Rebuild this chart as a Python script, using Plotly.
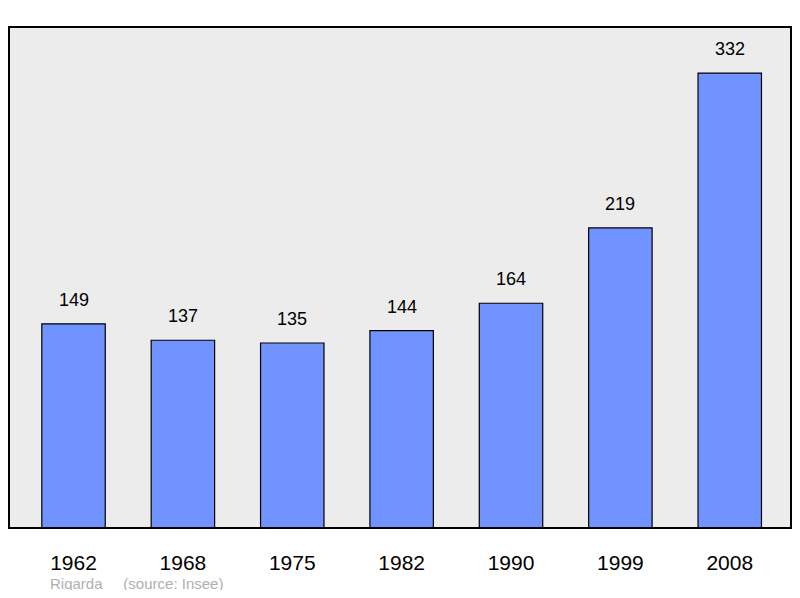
import plotly.graph_objects as go

years = ["1962", "1968", "1975", "1982", "1990", "1999", "2008"]
population = [149, 137, 135, 144, 164, 219, 332]

xs = list(range(len(years)))

fig = go.Figure()
fig.add_trace(
    go.Bar(
        x=xs,
        y=population,
        width=0.58,
        marker=dict(color="#7093ff", line=dict(color="black", width=1.2)),
        hoverinfo="skip",
    )
)

# value labels above each bar
for x, v in zip(xs, population):
    fig.add_annotation(
        x=x, y=v, text=str(v), showarrow=False, yanchor="bottom", yshift=12,
        font=dict(family="Liberation Sans", size=18, color="black"),
    )

fig.add_shape(
    type="rect", xref="paper", yref="paper", x0=0, y0=0, x1=1, y1=1,
    line=dict(color="black", width=2), layer="above",
)

fig.add_annotation(
    xref="paper", yref="paper", x=0.05, y=-0.11, xanchor="left", yanchor="middle",
    text="Rigarda&nbsp;&nbsp;&nbsp;&nbsp;&nbsp;(source: Insee)", showarrow=False,
    font=dict(family="Liberation Sans", size=15, color="#b0b0b0"),
)

fig.update_layout(
    width=784,
    height=582,
    margin=dict(l=1, r=1, t=19, b=62),
    paper_bgcolor="white",
    plot_bgcolor="#ececec",
    showlegend=False,
    xaxis=dict(
        range=[-0.59, 6.56],
        tickvals=xs,
        ticktext=years,
        showgrid=False,
        zeroline=False,
        ticks="outside",
        ticklen=16,
        tickcolor="rgba(0,0,0,0)",
        tickfont=dict(family="Liberation Sans", size=21, color="black"),
    ),
    yaxis=dict(
        range=[0, 365.6],
        showgrid=False,
        zeroline=False,
        showticklabels=False,
        ticks="",
    ),
)

fig.write_html("out.html")
